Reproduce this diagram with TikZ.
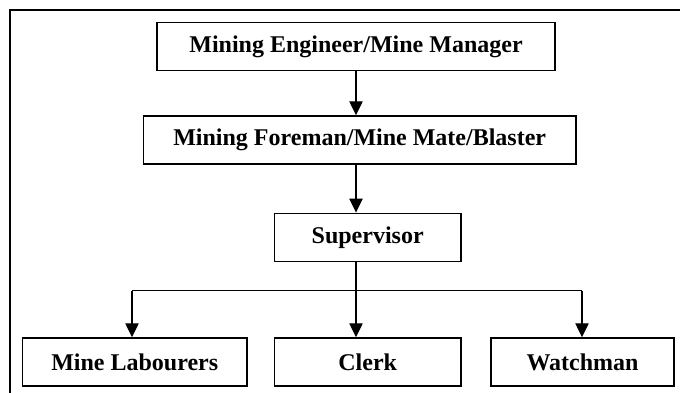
\documentclass[tikz,border=0pt]{standalone}
\usepackage{fontspec}
\setmainfont{Liberation Serif}
\usetikzlibrary{arrows.meta}
\begin{document}
\begin{tikzpicture}[x=0.75pt,y=-0.75pt,
  box/.style={draw,line width=1.1pt,rectangle,inner sep=0pt,font=\fontsize{18}{20}\selectfont\bfseries},
  arr/.style={line width=1pt,-{Triangle[length=10.5pt,width=10pt]}},
  ln/.style={line width=1pt}]
\useasboundingbox (0,0) rectangle (680,392);
\draw[line width=1.1pt] (10,395) -- (10,10) -- (685,10);
\node[box,minimum width=398*0.75pt,minimum height=48*0.75pt] (top) at (356,46.7) {Mining Engineer/Mine Manager};
\node[box,minimum width=432.7*0.75pt,minimum height=48*0.75pt] (fore) at (359.7,140) {Mining Foreman/Mine Mate/Blaster};
\node[box,minimum width=186.7*0.75pt,minimum height=48.4*0.75pt] (sup) at (367.7,237.5) {Supervisor};
\node[box,minimum width=224.5*0.75pt,minimum height=48*0.75pt] (lab) at (134.7,362) {Mine Labourers};
\node[box,minimum width=186.7*0.75pt,minimum height=48*0.75pt] (clerk) at (367.7,362) {Clerk};
\node[box,minimum width=183*0.75pt,minimum height=48*0.75pt] (watch) at (582.5,362) {Watchman};
\coordinate (jl) at (132,290.7);
\coordinate (jr) at (582,290.7);
\draw[arr] (top.south) -- (fore.north -| top.south);
\draw[arr] (fore.south -| top.south) -- (sup.north -| top.south);
\draw[arr] (sup.south -| top.south) -- (clerk.north -| top.south);
\draw[ln] (jl) -- (jr);
\draw[arr] (jl) -- (jl |- lab.north);
\draw[arr] (jr) -- (jr |- watch.north);
\end{tikzpicture}
\end{document}
